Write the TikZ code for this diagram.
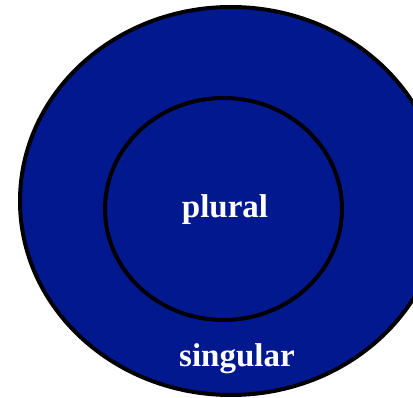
\documentclass[tikz,border=0pt]{standalone}
\usepackage{fontspec}
\setmainfont{Liberation Serif}
\usepackage{xcolor}
\usepackage{tikz}
\usetikzlibrary{shapes.geometric,positioning}
\definecolor{deepblue}{RGB}{2,24,143}
\tikzset{
  ring/.style={ellipse,draw=black,line width=4pt,fill=deepblue,inner sep=0pt},
  label/.style={text=white,font=\fontsize{33}{40}\selectfont\bfseries},
}

\begin{document}
\begin{tikzpicture}[x=1pt,y=-1pt]
  \useasboundingbox (0,0) rectangle (413,398);
  \clip (0,0) rectangle (413,398);
  \node[ring,minimum width=422pt,minimum height=388pt] (outer) at (231,201) {};
  \node[ring,minimum width=237pt,minimum height=222pt] (inner) at (223.5,209) {};
  \node[label] (plural) at (225,210) {plural};
  \node[label] (singular) at (237,359) {singular};
\end{tikzpicture}
\end{document}
